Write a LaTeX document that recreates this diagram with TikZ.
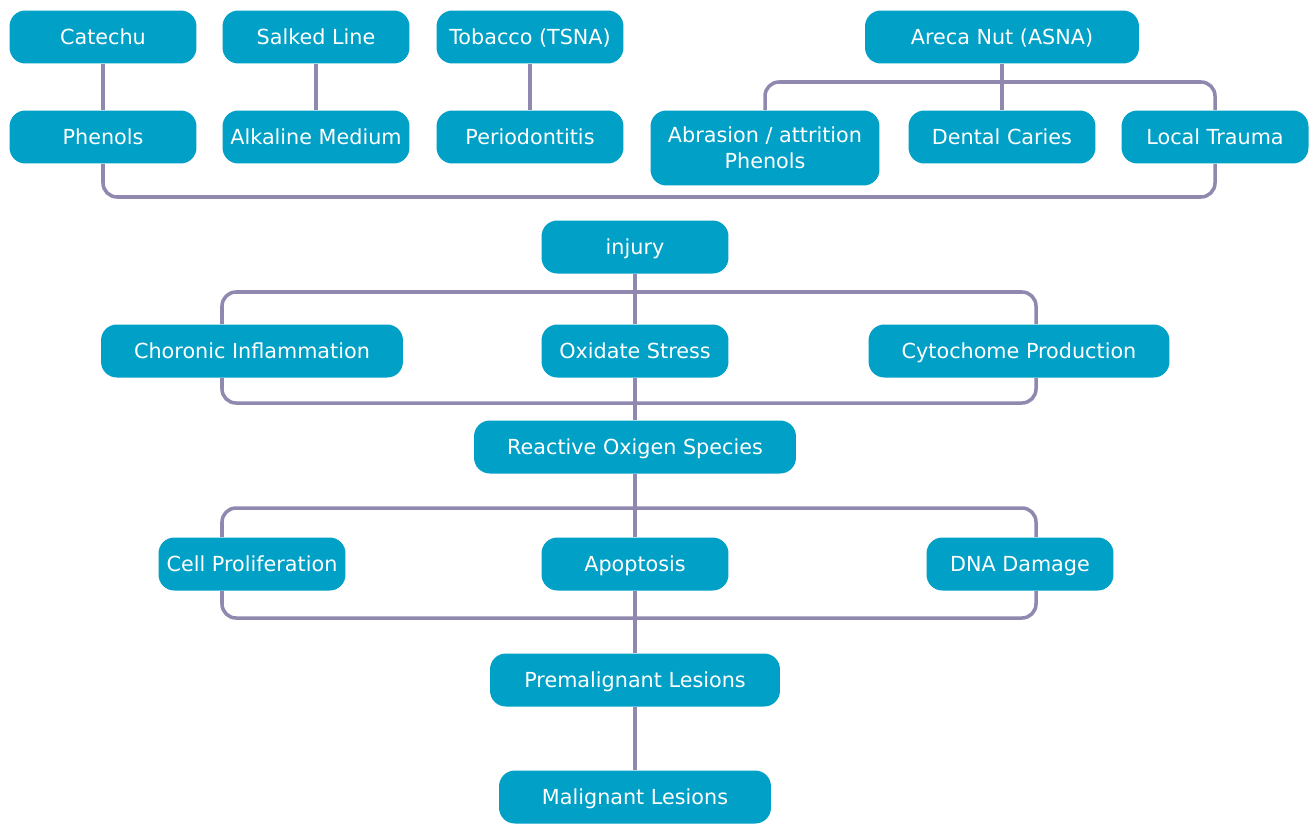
\documentclass[tikz,border=0pt]{standalone}
\usepackage{fontspec}
\setmainfont{DejaVu Sans}
\usetikzlibrary{backgrounds}
\definecolor{boxblue}{RGB}{0,160,199}
\definecolor{linkgray}{RGB}{145,136,176}

\tikzset{
  boxbase/.style={rectangle, rounded corners=9pt, fill=boxblue, text=white,
    minimum width=3.74cm, minimum height=1.06cm, inner sep=2pt,
    font=\fontsize{11.8}{14.5}\selectfont, align=center},
  box/.style={boxbase, text height=1.95ex, text depth=.3ex},
  link/.style={draw=linkgray, line width=2pt, rounded corners=8pt},
}

\begin{document}
\begin{tikzpicture}[x=0.02cm, y=-0.02cm]
		%%%%% START %%%%%
		\useasboundingbox (0,0) rectangle (1311,825);
		
		% sources
		\node[box] (catechu) at (103, 37) {Catechu};
		\node[box] (salked) at (316, 37) {Salked Line};
		\node[box] (tobacco) at (530, 37) {Tobacco (TSNA)};
		\node[box, minimum width=5.48cm] (areca) at (1002, 37) {Areca Nut (ASNA)};
		
		\node[box] (phenols) at (103, 137) {Phenols};
		\node[box] (alkaline) at (316, 137) {Alkaline Medium};
		\node[box] (perio) at (530, 137) {Periodontitis};
		\node[boxbase, minimum width=4.58cm, minimum height=1.5cm] (abrasion) at (765, 148) {Abrasion / attrition\\Phenols};
		\node[box] (caries) at (1002, 137) {Dental Caries};
		\node[box] (trauma) at (1215, 137) {Local Trauma};
		
		% middle
		\node[box] (injury) at (635, 247) {injury};
		
		\node[box, minimum width=6.04cm] (chor) at (252, 351) {Choronic Inflammation};
		\node[box] (oxidate) at (635, 351) {Oxidate Stress};
		\node[box, minimum width=6.02cm] (cyto) at (1019, 351) {Cytochome Production};
		
		\node[box, minimum width=6.44cm] (reactive) at (635, 447) {Reactive Oxigen Species};
		
		\node[box] (cell) at (252, 564) {Cell Proliferation};
		\node[box] (apoptosis) at (635, 564) {Apoptosis};
		\node[box] (dna) at (1020, 564) {DNA Damage};
		
		% outcome
		\node[box, minimum width=5.8cm] (premal) at (635, 680) {Premalignant Lesions};
		\node[box, minimum width=5.44cm] (malig) at (635, 797) {Malignant Lesions};
		
		\coordinate (tb) at (1002, 82);
		\coordinate (bb) at (640, 197);
		\coordinate (m2l) at (222, 292);
		\coordinate (m2r) at (1036, 292);
		\coordinate (m3l) at (222, 403);
		\coordinate (m3r) at (1036, 403);
		\coordinate (m4l) at (222, 508);
		\coordinate (m4r) at (1036, 508);
		\coordinate (m5l) at (222, 618);
		\coordinate (m5r) at (1036, 618);
		
		\begin{scope}[on background layer]
		\draw[link] (catechu) -- (phenols);
		\draw[link] (salked) -- (alkaline);
		\draw[link] (tobacco) -- (perio);
		\draw[link] (areca) -- (caries);
		\draw[link] (abrasion.north) |- (tb) -| (trauma.north);
		\draw[link] (phenols.south) |- (bb) -| (trauma.south);
		
		\draw[link] (injury) -- (oxidate);
		\draw[link] (chor.north -| m2l) -- (m2l) -- (m2r) -- (cyto.north -| m2r);
		\draw[link] (chor.south -| m3l) -- (m3l) -- (m3r) -- (cyto.south -| m3r);
		\draw[link] (oxidate) -- (reactive);
		
		\draw[link] (reactive) -- (apoptosis);
		\draw[link] (cell.north -| m4l) -- (m4l) -- (m4r) -- (dna.north -| m4r);
		\draw[link] (cell.south -| m5l) -- (m5l) -- (m5r) -- (dna.south -| m5r);
		\draw[link] (apoptosis) -- (premal);
		\draw[link] (premal) -- (malig);
		\end{scope}
		
		%%%%% END %%%%%
	\end{tikzpicture}
\end{document}
